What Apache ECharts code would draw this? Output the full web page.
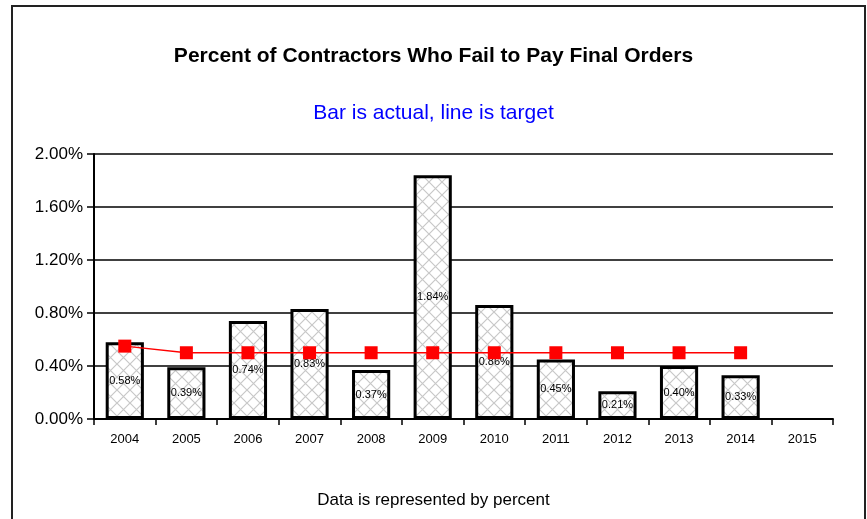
<!DOCTYPE html>
<html>
<head>
<meta charset="utf-8">
<script src="https://cdn.jsdelivr.net/npm/echarts@6/dist/echarts.min.js"></script>
<style>
  html, body { margin: 0; padding: 0; background: #fff; }
  #chart { width: 867px; height: 519px; }
</style>
</head>
<body>
<div id="chart"></div>
<script>
// data
const years = ["2004", "2005", "2006", "2007", "2008", "2009", "2010", "2011", "2012", "2013", "2014", "2015"];
const actual = [0.58, 0.39, 0.74, 0.83, 0.37, 1.84, 0.86, 0.45, 0.21, 0.40, 0.33, null];
const target = [0.55, 0.50, 0.50, 0.50, 0.50, 0.50, 0.50, 0.50, 0.50, 0.50, 0.50, null];
const yTicks = [0, 0.4, 0.8, 1.2, 1.6, 2.0];

// crosshatch fill for the bars
function hatch() {
  const c = document.createElement("canvas");
  c.width = 13;
  c.height = 13;
  const ctx = c.getContext("2d");
  ctx.fillStyle = "#ffffff";
  ctx.fillRect(0, 0, 13, 13);
  ctx.strokeStyle = "#c8c8c8";
  ctx.lineWidth = 1.2;
  ctx.beginPath();
  ctx.moveTo(0, 0); ctx.lineTo(13, 13);
  ctx.moveTo(13, 0); ctx.lineTo(0, 13);
  ctx.stroke();
  return c;
}

const font = "'Liberation Sans', Arial, sans-serif";
const chart = echarts.init(document.getElementById("chart"));

const option = {
  backgroundColor: "#fff",
  animation: false,
  title: [
    {
      text: "Percent of Contractors Who Fail to Pay Final Orders",
      left: "center",
      top: 41,
      textStyle: { fontFamily: font, fontSize: 21, fontWeight: "bold", color: "#000" },
    },
    {
      text: "Bar is actual, line is target",
      left: "center",
      top: 98,
      textStyle: { fontFamily: font, fontSize: 21, fontWeight: "normal", color: "#0000ff" },
    },
    {
      text: "Data is represented by percent",
      left: "center",
      top: 487,
      textStyle: { fontFamily: font, fontSize: 17, fontWeight: "normal", color: "#000" },
    },
  ],
  graphic: [
    {
      type: "rect",
      shape: { x: 12, y: 6, width: 853, height: 530 },
      style: { fill: null, stroke: "#222", lineWidth: 2 },
      silent: true,
    },
  ],
  grid: { left: 94, right: 34, top: 154, bottom: 100 },
  xAxis: {
    type: "category",
    data: years,
    axisLine: { lineStyle: { color: "#000", width: 2 } },
    axisTick: { show: true, length: 6, lineStyle: { color: "#000", width: 1.5 } },
    axisLabel: { fontFamily: font, fontSize: 13, color: "#000", margin: 14 },
  },
  yAxis: {
    type: "value",
    min: yTicks[0],
    max: yTicks[yTicks.length - 1],
    interval: 0.4,
    axisLine: { show: true, lineStyle: { color: "#000", width: 2 } },
    axisTick: { show: true, length: 7, lineStyle: { color: "#000", width: 1.5 } },
    axisLabel: {
      fontFamily: font,
      fontSize: 17,
      color: "#000",
      margin: 11,
      formatter: (v) => v.toFixed(2) + "%",
    },
    splitLine: { show: true, lineStyle: { color: "#000", width: 1.5 } },
  },
  series: [
    {
      name: "Actual",
      type: "bar",
      data: actual,
      barWidth: "62%",
      itemStyle: {
        color: { image: hatch(), repeat: "repeat" },
        borderColor: "#000",
        borderWidth: 3,
      },
      label: {
        show: true,
        position: "inside",
        fontFamily: font,
        fontSize: 11,
        color: "#000",
        formatter: (p) => p.value.toFixed(2) + "%",
      },
      z: 2,
    },
    {
      name: "Target",
      type: "line",
      data: target,
      symbol: "rect",
      symbolSize: 13,
      itemStyle: { color: "#ff0000" },
      lineStyle: { color: "#ff0000", width: 1.5 },
      z: 3,
    },
  ],
};

chart.setOption(option);
</script>
</body>
</html>
